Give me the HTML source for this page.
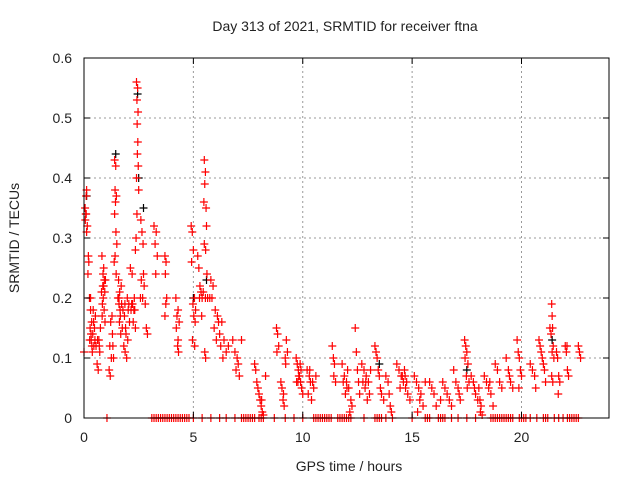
<!DOCTYPE html>
<html><head><meta charset="utf-8"><style>
body{margin:0;background:#fff}
svg text{font-family:"Liberation Sans",sans-serif;font-size:14px;fill:#222}
</style></head><body>
<svg id="chart" width="640" height="480">
<rect width="640" height="480" fill="#fff"/>
<text x="345" y="31" text-anchor="middle">Day 313 of 2021, SRMTID for receiver ftna</text>
<text x="349" y="471" text-anchor="middle">GPS time / hours</text>
<text transform="translate(19,238) rotate(-90)" text-anchor="middle">SRMTID / TECUs</text>
<g id="grid"></g><g id="marks"></g>
<rect x="84" y="58" width="525" height="360" fill="none" stroke="#000"/>
<g id="ticks"></g>
</svg>
<script>
const xTicks=[0,5,10,15,20];
const yTicks=[0,0.1,0.2,0.3,0.4,0.5,0.6];
const yTickLabels=["0","0.1","0.2","0.3","0.4","0.5","0.6"];
const redPoints=[
[0,0.11],[0.05,0.35],[0.08,0.34],[0.1,0.37],[0.12,0.38],[0.06,0.33],[0.15,0.32],[0.12,0.31],[0.2,0.27],[0.22,0.26],[0.18,0.24],[0.1,0.34],
[0.25,0.2],[0.3,0.18],[0.35,0.16],[0.28,0.15],[0.4,0.14],[0.33,0.13],[0.45,0.12],[0.38,0.11],[0.42,0.18],[0.3,0.2],[0.48,0.15],[0.36,0.12],
[0.26,0.13],[0.32,0.14],[0.44,0.16],[0.5,0.13],[0.55,0.12],[0.52,0.17],
[0.6,0.09],[0.65,0.08],[0.7,0.12],[0.62,0.13],[0.75,0.15],[0.68,0.13],[0.72,0.11],
[0.82,0.27],[0.9,0.25],[0.86,0.22],[0.95,0.21],[0.88,0.2],[0.98,0.23],[0.84,0.19],[0.92,0.18],[0.96,0.16],[0.9,0.22],[0.8,0.21],
[0.87,0.24],[0.93,0.23],[0.83,0.17],
[1.15,0.08],[1.2,0.07],[1.25,0.1],[1.18,0.12],[1.3,0.14],[1.22,0.16],[1.28,0.17],[1.32,0.12],[1.35,0.1],
[1.4,0.43],[1.45,0.42],[1.42,0.38],[1.48,0.37],[1.44,0.36],[1.4,0.34],[1.46,0.31],[1.5,0.29],[1.42,0.27],[1.38,0.26],[1.47,0.24],
[1.55,0.2],[1.6,0.19],[1.65,0.18],[1.58,0.23],[1.7,0.22],[1.62,0.16],[1.75,0.15],[1.68,0.14],[1.6,0.2],[1.72,0.19],
[1.63,0.21],[1.78,0.18],[1.66,0.17],
[1.82,0.12],[1.88,0.11],[1.95,0.1],[1.9,0.15],[2.0,0.13],[1.85,0.17],[2.05,0.19],[1.98,0.2],[2.08,0.16],
[1.92,0.14],[2.02,0.18],[1.87,0.19],
[2.12,0.25],[2.2,0.24],[2.18,0.19],[2.28,0.18],[2.25,0.16],[2.35,0.15],[2.3,0.2],[2.15,0.18],
[2.22,0.19],[2.32,0.18],
[2.4,0.56],[2.45,0.55],[2.42,0.53],[2.47,0.51],[2.43,0.49],[2.46,0.46],[2.44,0.44],[2.48,0.42],[2.4,0.4],[2.5,0.38],[2.42,0.34],[2.38,0.3],[2.35,0.28],
[2.6,0.33],[2.65,0.31],[2.7,0.29],[2.62,0.23],[2.75,0.22],[2.68,0.2],[2.8,0.19],[2.85,0.15],[2.9,0.14],[2.72,0.24],[2.58,0.2],
[3.2,0.32],[3.3,0.31],[3.25,0.29],[3.35,0.27],[3.28,0.24],
[3.7,0.27],[3.75,0.26],[3.72,0.24],[3.78,0.2],[3.74,0.19],[3.7,0.17],
[4.2,0.2],[4.3,0.18],[4.25,0.17],[4.35,0.16],[4.22,0.15],[4.3,0.13],[4.28,0.12],[4.32,0.11],
[4.9,0.32],[4.95,0.31],[5.0,0.28],[4.92,0.26],[5.05,0.2],[4.98,0.19],[5.1,0.18],[5.02,0.17],[5.08,0.16],[4.96,0.13],[5.06,0.12],
[5.2,0.27],[5.25,0.25],[5.3,0.22],[5.35,0.21],[5.28,0.2],[5.38,0.17],
[5.5,0.43],[5.55,0.41],[5.52,0.39],[5.48,0.36],[5.58,0.35],[5.6,0.32],[5.5,0.29],[5.56,0.28],[5.62,0.24],[5.65,0.2],[5.52,0.11],[5.56,0.1],
[5.45,0.21],[5.55,0.2],[5.4,0.2],
[5.8,0.23],[5.9,0.22],[5.85,0.2],[6.0,0.18],[6.1,0.17],[5.95,0.15],[6.2,0.14],[6.05,0.13],[6.25,0.12],[5.75,0.2],[6.15,0.16],
[6.3,0.16],[6.4,0.13],[6.35,0.1],[6.5,0.11],[6.6,0.12],
[6.8,0.13],[6.9,0.11],[7.0,0.1],[7.05,0.09],[6.95,0.08],[7.1,0.07],[7.2,0.13],
[7.8,0.09],[7.85,0.08],[7.9,0.06],[8.0,0.04],[8.05,0.03],[8.1,0.02],[8.15,0.01],[8.2,0.005],[8.3,0.07],[7.95,0.05],[8.12,0.03],
[8.8,0.15],[8.85,0.14],[8.9,0.12],[8.82,0.11],
[9.0,0.06],[9.05,0.05],[9.1,0.03],[9.15,0.02],[9.2,0.1],[9.25,0.13],[9.3,0.11],[9.22,0.09],[9.12,0.04],
[9.7,0.1],[9.75,0.09],[9.8,0.08],[9.85,0.07],[9.9,0.06],[9.95,0.05],[10.0,0.04],[9.78,0.06],[9.88,0.09],
[9.82,0.07],[9.92,0.08],[9.72,0.06],
[10.2,0.08],[10.3,0.07],[10.35,0.06],[10.25,0.04],[10.4,0.03],[10.5,0.05],[10.6,0.07],
[10.32,0.08],[10.45,0.06],
[11.35,0.12],[11.4,0.1],[11.45,0.09],[11.42,0.07],[11.5,0.06],
[11.8,0.09],[11.9,0.07],[12.0,0.06],[12.1,0.05],[11.95,0.04],[12.2,0.03],[12.25,0.02],[12.15,0.01],[12.05,0.08],
[11.85,0.06],[12.02,0.05],
[12.4,0.15],[12.45,0.11],[12.5,0.08],[12.55,0.06],[12.6,0.04],
[12.7,0.09],[12.8,0.08],[12.9,0.07],[13.0,0.06],[12.85,0.05],[13.05,0.04],[12.95,0.03],[13.1,0.08],
[12.75,0.06],[12.88,0.06],
[13.3,0.12],[13.35,0.11],[13.4,0.1],[13.45,0.08],[13.5,0.07],[13.55,0.05],[13.6,0.04],[13.7,0.03],
[13.8,0.07],[13.9,0.06],[13.95,0.04],[14.0,0.02],[14.05,0.01],
[14.3,0.09],[14.4,0.08],[14.5,0.07],[14.6,0.06],[14.7,0.05],[14.8,0.04],[14.9,0.03],[14.45,0.05],[14.65,0.08],[14.75,0.06],
[14.55,0.07],[14.68,0.07],
[15.1,0.07],[15.2,0.06],[15.3,0.05],[15.4,0.04],[15.35,0.03],[15.5,0.02],[15.25,0.01],[15.6,0.06],
[15.8,0.06],[15.9,0.05],[16.0,0.04],[16.1,0.02],[16.3,0.03],
[16.4,0.06],[16.5,0.05],[16.6,0.04],[16.7,0.03],[16.8,0.02],
[16.9,0.08],[17.0,0.06],[17.1,0.05],[17.15,0.04],[17.2,0.03],
[17.4,0.13],[17.45,0.12],[17.5,0.11],[17.42,0.1],[17.55,0.09],[17.48,0.07],[17.6,0.06],[17.52,0.05],
[17.7,0.07],[17.8,0.06],[17.85,0.05],[17.9,0.04],[18.0,0.03],
[18.05,0.05],[18.1,0.03],[18.15,0.02],[18.12,0.01],[18.2,0.005],
[18.3,0.07],[18.4,0.06],[18.5,0.05],[18.6,0.04],[18.7,0.02],[18.55,0.06],
[18.8,0.09],[18.9,0.08],[19.0,0.06],[19.1,0.05],
[19.3,0.1],[19.4,0.08],[19.45,0.07],[19.5,0.06],[19.6,0.05],
[19.8,0.13],[19.85,0.11],[19.9,0.1],[19.95,0.08],[20.0,0.07],[19.88,0.05],
[20.4,0.09],[20.5,0.08],[20.6,0.07],[20.65,0.05],
[20.8,0.13],[20.85,0.12],[20.9,0.11],[20.95,0.1],[21.0,0.09],[21.05,0.08],[21.1,0.06],
[21.3,0.15],[21.38,0.19],[21.4,0.17],[21.42,0.15],[21.35,0.14],[21.45,0.12],[21.4,0.11],[21.48,0.1],[21.38,0.07],[21.43,0.06],
[21.6,0.11],[21.65,0.1],[21.7,0.07],[21.75,0.06],[21.68,0.04],
[22.0,0.12],[22.05,0.11],[22.1,0.08],[22.15,0.07],[22.08,0.12],
[22.6,0.12],[22.65,0.11],[22.7,0.1]
];
const blackPoints=[[0.12,0.37],[1.45,0.44],[2.45,0.54],[2.5,0.4],[2.72,0.35],[5.0,0.2],[5.6,0.23],[13.5,0.09],[17.5,0.08],[21.4,0.13]];
const zeroTimes=[1.05,3.1,3.2,3.3,3.4,3.5,3.6,3.7,3.8,3.9,4.0,4.1,4.2,4.3,4.4,4.5,4.6,4.7,4.8,5.0,5.4,5.8,6.2,6.5,6.9,7.2,7.3,7.4,7.5,7.6,7.7,7.8,8.0,8.1,8.2,8.7,9.2,9.6,10.0,10.5,10.6,10.7,10.8,10.9,11.0,11.1,11.2,11.3,11.6,11.7,11.8,11.9,12.0,12.1,12.2,12.8,13.3,13.4,13.5,13.6,13.8,14.1,15.0,15.6,15.7,15.8,16.2,16.3,16.4,16.5,16.8,17.1,17.5,17.9,18.6,18.7,18.8,18.9,19.0,19.1,19.2,19.3,19.4,19.5,19.6,19.9,20.0,20.1,20.2,20.4,20.7,21.0,21.1,21.2,21.5,21.7,21.9,22.1,22.2,22.3,22.4,22.5,22.6];

const X0=84,X1=609,Y0=418,Y1=58,XMAX=24,YMAX=0.6;
function xs(t){return X0+(X1-X0)*t/XMAX;}
function ys(v){return Y0-(Y0-Y1)*v/YMAX;}
const NS="http://www.w3.org/2000/svg";
function mk(tag,attrs,parent){const e=document.createElementNS(NS,tag);for(const k in attrs)e.setAttribute(k,attrs[k]);parent.appendChild(e);return e;}
const grid=document.getElementById('grid'),marks=document.getElementById('marks'),ticks=document.getElementById('ticks');
yTicks.forEach((v,i)=>{
  const y=ys(v);
  if(v>0&&v<YMAX){const g=mk('line',{x1:X0,x2:X1,y1:y,y2:y,stroke:'#999','stroke-dasharray':'2,3'},grid);
  
  }
  mk('line',{x1:X0,x2:X0+6,y1:y,y2:y,stroke:'#000'},ticks);
  mk('line',{x1:X1,x2:X1-6,y1:y,y2:y,stroke:'#000'},ticks);
  const t=mk('text',{x:X0-12,y:y+5,'text-anchor':'end'},ticks);t.textContent=yTickLabels[i];
  
  
});
xTicks.forEach(v=>{
  const x=xs(v);
  if(v>0){const g=mk('line',{x1:x,x2:x,y1:Y0,y2:Y1,stroke:'#999','stroke-dasharray':'2,3'},grid);
  
  }
  mk('line',{x1:x,x2:x,y1:Y0,y2:Y0-6,stroke:'#000'},ticks);
  mk('line',{x1:x,x2:x,y1:Y1,y2:Y1+6,stroke:'#000'},ticks);
  const t=mk('text',{x:x,y:Y0+24,'text-anchor':'middle'},ticks);t.textContent=String(v);
  
  
});
function cross(t,v,color,name){
  const x=xs(t),y=ys(v);
  const p=mk('path',{d:`M${x-4},${y}H${x+4}M${x},${y-4}V${y+4}`,stroke:color,'stroke-width':1.2,fill:'none'},marks);
  
  
}
blackPoints.forEach(p=>cross(p[0],p[1],'#000','black-point'));
redPoints.forEach(p=>cross(p[0],p[1],'#f00','srmtid-point'));
zeroTimes.forEach(t=>cross(t,0,'#f00','zero-point'));
</script>
</body></html>
